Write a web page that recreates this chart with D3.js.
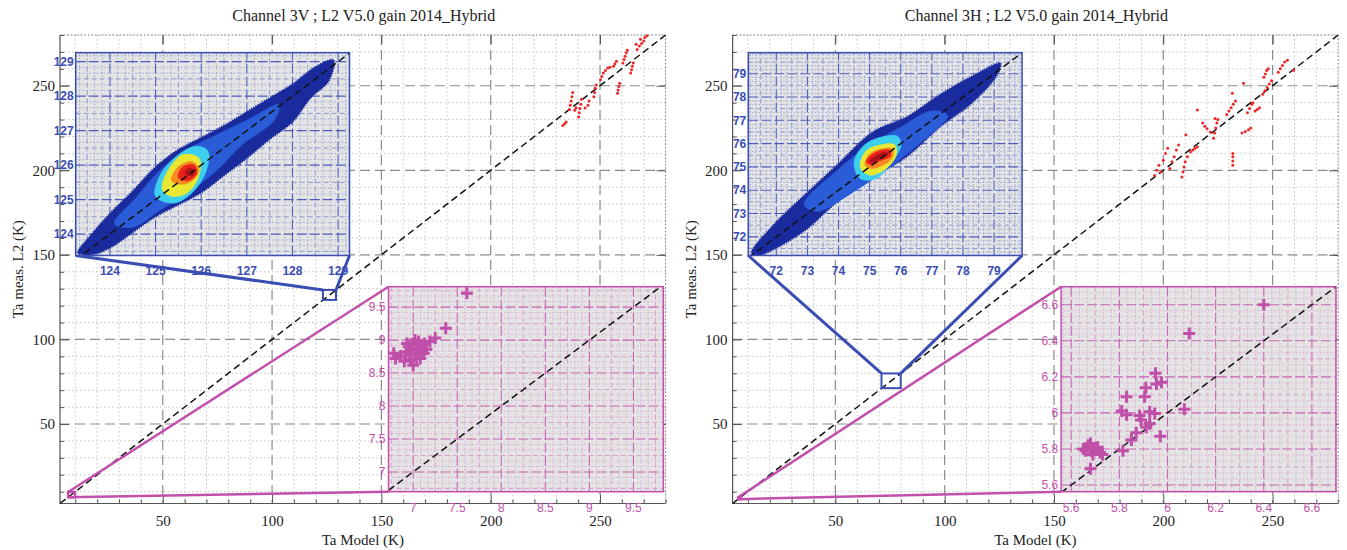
<!DOCTYPE html>
<html lang="en">
<head>
<meta charset="UTF-8">
<title>Ta meas. L2 vs Ta Model</title>
<script src="https://d3js.org/d3.v7.min.js"></script>
<style>
    body { margin: 0; background: #fff; }
    svg { display: block; }
    .serif { font-family: "Liberation Serif", "Times New Roman", serif; }
    .small { font-family: "Liberation Sans", Arial, sans-serif; font-size: 12px; }
</style>
<script>

    // ---- main axes ----
    const titles = ["Channel 3V ; L2 V5.0 gain 2014_Hybrid", "Channel 3H ; L2 V5.0 gain 2014_Hybrid"];
    const mainDomain = [3, 280];
    const mainTicks = [50, 100, 150, 200, 250];
    const xTitle = "Ta Model (K)";
    const yTitle = "Ta meas. L2 (K)";

    // ---- red points (main plot) ----
    const red3V = [
        [233.0,226.5],[233.8,227.6],[234.5,228.6],
        [236.0,236.0],[236.4,238.5],[236.8,241],[237.2,243.5],[237.5,246],
        [238.5,235.5],[239,237],
        [240.2,231.5],[240.5,234],[240.8,236.5],[241.2,239],[241.5,242],
        [243.2,236.8],[244.5,238.5],[245,241],
        [247.2,243.5],[247.5,246],[247.8,248.5],[248.3,250.5],
        [250.2,253.5],[250.8,255.5],[251.5,257.5],[252.5,259],[253.5,260.5],[254.5,261],
        [256.2,261.5],[256.8,263],[257.5,264.5],
        [258,245.5],[258.3,247.5],[258.6,249.5],[259,251.5],
        [260.5,263.5],[261,265.5],[261.5,267.5],[262,269.5],[262.5,271],
        [264,257.5],[264.4,259.5],[264.8,261.5],[265.2,263.5],
        [266.5,274.5],[267,271.5],[268,273.5],[268.5,277.5],[269,275],[270,276.5],[270.5,278.5],[271.5,279.5]
    ];
    const red3H = [
        [196,197],[197,200],[198,203],[199,199],[200,206],[201,210],[202,213],[203,201],[204,205],[205,208],[206,212],[207,215],
        [208.5,196],[209,199],[209.5,202],[210,205],[210.3,221],[211,208],
        [212.5,211],[213.5,212],[214.5,213],[215.6,214],[215.6,235.6],
        [218,228],[219,226],[220,224.5],[221.5,222.6],
        [223,219],[223.5,222],[224,225],[224.5,228],[225,230],[223.7,230.6],
        [229,233],[230,235],[231,237],[232,239],[233,241],
        [231.8,203],[231.8,205.5],[231.8,208],[231.8,210],[231.6,245.6],
        [236,222],[237.5,223],[239,224],[240,225],
        [238.5,234],[239.5,236.5],[240.5,239],[241,240],[236.7,251.5],
        [242,235],[243,236],[244,237],
        [245.5,245],[246.5,247],[247.5,249],[248.5,251],[249.5,253],
        [246,255],[246.7,257],[247.3,259],[248,260],
        [252.6,258],[253.5,260],[254.5,262],[255.5,264],[256.8,265],[259.6,259.2]
    ];

    // ---- blue zoom (density cloud) ----
    const blueX3V = [123.25, 129.25];
    const blueY3V = [123.38, 129.26];
    const blueTicks3V = [124, 125, 126, 127, 128, 129];
    const blueX3H = [71.1, 79.9];
    const blueY3H = [71.2, 79.9];
    const blueTicks3H = [72, 73, 74, 75, 76, 77, 78, 79];

    const cloudColors = ["#1a2b9e", "#2a5cd8", "#3ccfee", "#e8e832", "#f68a1f", "#e8221a", "#a8101c"];
    const cloud3V = [
        [[123.3,123.45],[123.6,124.0],[124,124.6],[124.5,125.25],[125,125.95],[125.5,126.45],[126,126.8],[126.5,127.15],[127,127.55],[127.5,127.95],[128,128.35],[128.5,128.85],[128.9,129.05],
         [128.8,128.45],[128.4,127.95],[128,127.25],[127.5,126.75],[127,126.2],[126.5,125.7],[126,125.2],[125.5,124.85],[125,124.5],[124.5,124.05],[124,123.6],[123.6,123.4]],
        [[124.1,124.3],[124.6,125.1],[125.1,125.85],[125.7,126.45],[126.3,126.85],[127,127.3],[127.7,127.75],[127.6,127.3],[126.9,126.6],[126.3,125.8],[125.7,125.2],[125.1,124.7],[124.5,124.2]],
        [[125.0,125.1],[125.1,125.7],[125.5,126.3],[125.9,126.55],[126.15,126.4],[126.1,125.8],[125.8,125.2],[125.4,124.9]],
        [[125.15,125.3],[125.3,125.9],[125.6,126.3],[125.95,126.2],[125.95,125.7],[125.7,125.2],[125.35,125.1]],
        [[125.35,125.55],[125.5,125.95],[125.8,126.1],[125.95,125.9],[125.85,125.6],[125.6,125.45]],
        [[125.5,125.65],[125.6,125.95],[125.85,126.0],[125.9,125.75],[125.7,125.55]],
        [[125.65,125.75],[125.72,125.9],[125.85,125.85],[125.82,125.7]]
    ];
    const cloud3H = [
        [[71.2,71.3],[71.9,72.5],[72.95,73.85],[74.0,75.15],[75.1,76.5],[76.2,77.15],[77.25,78.1],[78.3,78.9],[79.2,79.45],
         [79.1,78.95],[78.3,77.75],[77.25,76.7],[76.2,75.45],[75.1,74.55],[74.0,73.55],[72.95,72.3],[71.9,71.45],[71.4,71.2]],
        [[72.9,73.4],[74.0,74.9],[75,75.95],[76,76.7],[77,77.4],[77.5,77.2],[76.6,76.0],[75.6,74.95],[74.5,73.95],[73.3,73.1]],
        [[74.5,75.2],[74.8,75.9],[75.3,76.25],[75.9,76.3],[76.0,75.9],[75.7,75.2],[75.2,74.5],[74.7,74.5]],
        [[74.7,75.0],[74.9,75.7],[75.4,75.95],[75.8,75.95],[75.85,75.5],[75.5,74.9],[75.0,74.65]],
        [[74.85,75.1],[75.0,75.55],[75.5,75.8],[75.75,75.75],[75.7,75.35],[75.3,75.0],[75.0,74.95]],
        [[74.9,75.2],[75.0,75.45],[75.35,75.7],[75.65,75.7],[75.65,75.45],[75.3,75.25],[75.1,75.1]],
        [[75.0,75.25],[75.1,75.38],[75.5,75.62],[75.6,75.55],[75.4,75.4],[75.1,75.2]]
    ];

    // ---- magenta zoom (low temperature points) ----
    const pinkX3V = [6.72, 9.84];
    const pinkY3V = [6.70, 9.81];
    const pinkTicks3V = [7, 7.5, 8, 8.5, 9, 9.5];
    const plus3V = [
        [7.61,9.71],[7.37,9.18],[7.25,9.03],[7.19,8.98],[7.13,8.95],[6.80,8.72],[6.78,8.80],[6.86,8.76],
        [6.92,8.82],[6.95,8.90],[6.98,8.85],[7.00,8.95],[7.02,8.78],[7.05,8.88],[7.08,8.83],[7.10,8.92],
        [7.12,8.80],[6.97,8.70],[7.00,8.62],[7.04,8.72],[6.93,8.95],[7.06,8.98],[7.15,8.86],[6.90,8.68],
        [7.08,8.72],[7.02,9.00],[6.96,8.78]
    ];
    const pinkX3H = [5.558, 6.70];
    const pinkY3H = [5.563, 6.70];
    const pinkTicks3H = [5.6, 5.8, 6, 6.2, 6.4, 6.6];
    const plus3H = [
        [6.40,6.60],[6.09,6.44],[5.95,6.22],[5.975,6.17],[5.954,6.16],[5.91,6.14],[5.905,6.09],[5.83,6.09],
        [5.81,6.01],[5.83,5.99],[5.884,5.985],[5.89,5.96],[5.926,6.006],[5.947,5.997],[5.912,5.92],[5.87,5.89],
        [5.926,5.94],[6.07,6.02],[5.97,5.87],[5.85,5.85],[5.815,5.79],
        [5.65,5.80],[5.67,5.82],[5.68,5.79],[5.70,5.80],[5.72,5.78],[5.69,5.77],[5.66,5.79],[5.71,5.81],
        [5.73,5.77],[5.68,5.83],[5.68,5.69]
    ];

    const panels = [
        {title: titles[0], red: red3V, bx: blueX3V, by: blueY3V, bt: blueTicks3V, cloud: cloud3V,
         px: pinkX3V, py: pinkY3V, pt: pinkTicks3V, plus: plus3V},
        {title: titles[1], red: red3H, bx: blueX3H, by: blueY3H, bt: blueTicks3H, cloud: cloud3H,
         px: pinkX3H, py: pinkY3H, pt: pinkTicks3H, plus: plus3H}
    ];

    const BLUE = "#3a4db2";
    const PINK = "#c24fab";

    document.addEventListener("DOMContentLoaded", function() {
        const svg = d3.select("svg");
        panels.forEach(function(p, i) {
            drawPanel(svg.append("g").attr("transform", "translate(" + (i * 672.6) + ",0)"), p, i);
        });
    });

    // grid with 6 sub-divisions per major step, the middle one dashed
    function insetGrid(g, xs, ys, major, color, light) {
        const step = major / 6;
        const ks = function(dom) {
            return d3.range(Math.ceil(dom[0] / step - 1e-6), Math.floor(dom[1] / step + 1e-6) + 1);
        };
        const style = function(sel, k) {
            if (k % 6 === 0) sel.attr("stroke", color).attr("stroke-width", 1.1).attr("stroke-dasharray", "10,3");
            else if (k % 3 === 0) sel.attr("stroke", light).attr("stroke-width", 1).attr("stroke-dasharray", "5,3");
            else sel.attr("stroke", light).attr("stroke-width", 0.8).attr("stroke-dasharray", "1.5,2");
        };
        ks(xs.domain()).forEach(function(k) {
            const x = xs(k * step);
            g.append("line").attr("x1", x).attr("x2", x).attr("y1", ys.range()[0]).attr("y2", ys.range()[1]).call(style, k);
        });
        ks(ys.domain()).forEach(function(k) {
            const y = ys(k * step);
            g.append("line").attr("y1", y).attr("y2", y).attr("x1", xs.range()[0]).attr("x2", xs.range()[1]).call(style, k);
        });
    }

    function drawPanel(g, p, idx) {
        const left = 60, right = 665.6, top = 35, bottom = 503.5;
        const x = d3.scaleLinear().domain(mainDomain).range([left, right]);
        const y = d3.scaleLinear().domain(mainDomain).range([bottom, top]);

        g.append("text").attr("class", "serif").attr("x", (left + right) / 2 + 1).attr("y", 21)
            .attr("text-anchor", "middle").attr("font-size", 16).attr("fill", "#222").text(p.title);

        // main grid
        const minor = d3.range(10, 281, 10).filter(v => v % 50 !== 0);
        g.selectAll(".vmin").data(minor).join("line")
            .attr("x1", d => x(d)).attr("x2", d => x(d)).attr("y1", top).attr("y2", bottom)
            .attr("stroke", "#c4c4c4").attr("stroke-dasharray", "1.5,2.5");
        g.selectAll(".hmin").data(minor).join("line")
            .attr("y1", d => y(d)).attr("y2", d => y(d)).attr("x1", left).attr("x2", right)
            .attr("stroke", "#c4c4c4").attr("stroke-dasharray", "1.5,2.5");
        g.selectAll(".vmaj").data(mainTicks).join("line")
            .attr("x1", d => x(d)).attr("x2", d => x(d)).attr("y1", top).attr("y2", bottom)
            .attr("stroke", "#8c8c8c").attr("stroke-width", 1.2).attr("stroke-dasharray", "10,5");
        g.selectAll(".hmaj").data(mainTicks).join("line")
            .attr("y1", d => y(d)).attr("y2", d => y(d)).attr("x1", left).attr("x2", right)
            .attr("stroke", "#8c8c8c").attr("stroke-width", 1.2).attr("stroke-dasharray", "10,5");

        // frame: dotted top/right, solid left/bottom
        g.append("path").attr("d", `M${left},${top}H${right}V${bottom}`).attr("fill", "none")
            .attr("stroke", "#888").attr("stroke-dasharray", "1.5,2");
        g.append("path").attr("d", `M${left},${top}V${bottom}H${right}`).attr("fill", "none")
            .attr("stroke", "#555").attr("stroke-width", 1.2);

        // axes
        const ax = function(axis, tr, labels, size, pad) {
            const a = g.append("g").attr("class", "serif").attr("transform", tr)
                .call(axis.tickSize(size).tickPadding(pad).tickFormat(labels ? d3.format("d") : ""));
            a.select(".domain").remove();
            a.selectAll("line").attr("stroke", "#555");
            a.selectAll("text").attr("font-size", 15).attr("fill", "#222");
        };
        ax(d3.axisBottom(x).tickValues(mainTicks), `translate(0,${bottom})`, true, -9, 12);
        ax(d3.axisLeft(y).tickValues(mainTicks), `translate(${left},0)`, true, -9, 5);
        ax(d3.axisTop(x).tickValues(mainTicks), `translate(0,${top})`, false, -9, 0);
        ax(d3.axisRight(y).tickValues(mainTicks), `translate(${right},0)`, false, -9, 0);
        ax(d3.axisBottom(x).tickValues(minor), `translate(0,${bottom})`, false, -4, 0);
        ax(d3.axisLeft(y).tickValues(minor), `translate(${left},0)`, false, -4, 0);

        g.append("text").attr("class", "serif").attr("x", (left + right) / 2).attr("y", 545)
            .attr("text-anchor", "middle").attr("font-size", 15).attr("fill", "#222").text(xTitle);
        g.append("text").attr("class", "serif").attr("transform", `translate(23,${(top + bottom) / 2}) rotate(-90)`)
            .attr("text-anchor", "middle").attr("font-size", 15).attr("fill", "#222").text(yTitle);

        // 1:1 line
        g.append("line").attr("x1", x(mainDomain[0])).attr("y1", y(mainDomain[0]))
            .attr("x2", x(mainDomain[1])).attr("y2", y(mainDomain[1]))
            .attr("stroke", "#111").attr("stroke-width", 1.5).attr("stroke-dasharray", "7,4");

        // red scatter
        g.selectAll(".red").data(p.red).join("circle")
            .attr("cx", d => x(d[0])).attr("cy", d => y(d[1])).attr("r", 1.5).attr("fill", "#f02626");

        // ---- blue inset ----
        const bi = {x0: 75.7, x1: 349.5, y0: 52.7, y1: 255.5};
        const bxs = d3.scaleLinear().domain(p.bx).range([bi.x0, bi.x1]);
        const bys = d3.scaleLinear().domain(p.by).range([bi.y1, bi.y0]);
        const bBox = {x0: x(p.bx[0]), x1: x(p.bx[1]), y0: y(p.by[1]), y1: y(p.by[0])};

        g.append("rect").attr("x", bBox.x0).attr("y", bBox.y0).attr("width", bBox.x1 - bBox.x0)
            .attr("height", bBox.y1 - bBox.y0).attr("fill", "none").attr("stroke", BLUE).attr("stroke-width", 2);
        g.append("line").attr("x1", bi.x0).attr("y1", bi.y1).attr("x2", bBox.x0).attr("y2", bBox.y0)
            .attr("stroke", BLUE).attr("stroke-width", 3);
        g.append("line").attr("x1", bi.x1).attr("y1", bi.y1).attr("x2", bBox.x1).attr("y2", bBox.y0)
            .attr("stroke", BLUE).attr("stroke-width", 3);

        const bg = g.append("g");
        bg.append("clipPath").attr("id", "bclip" + idx).append("rect")
            .attr("x", bi.x0).attr("y", bi.y0).attr("width", bi.x1 - bi.x0).attr("height", bi.y1 - bi.y0);
        bg.append("rect").attr("x", bi.x0).attr("y", bi.y0).attr("width", bi.x1 - bi.x0).attr("height", bi.y1 - bi.y0)
            .attr("fill", "#e4e4e4");
        const bc = bg.append("g").attr("clip-path", `url(#bclip${idx})`);
        insetGrid(bc, bxs, bys, 1, "#4a5cbc", "#8b97d4");

        const cloudLine = d3.line().x(d => bxs(d[0])).y(d => bys(d[1])).curve(d3.curveCatmullRomClosed.alpha(0.5));
        bc.selectAll(".cloud").data(p.cloud).join("path")
            .attr("d", cloudLine).attr("fill", (d, i) => cloudColors[i])
            .attr("stroke", (d, i) => cloudColors[i]).attr("stroke-width", (d, i) => i === 0 ? 2 : 0.8)
            .attr("stroke-dasharray", (d, i) => i === 0 ? "1,1.5" : null).attr("stroke-linejoin", "round");

        bc.append("line").attr("x1", bxs(p.bx[0])).attr("y1", bys(p.bx[0]))
            .attr("x2", bxs(p.bx[1])).attr("y2", bys(p.bx[1]))
            .attr("stroke", "#111").attr("stroke-width", 1.5).attr("stroke-dasharray", "7,4");
        bg.append("rect").attr("x", bi.x0).attr("y", bi.y0).attr("width", bi.x1 - bi.x0).attr("height", bi.y1 - bi.y0)
            .attr("fill", "none").attr("stroke", BLUE).attr("stroke-width", 1.5);

        bg.selectAll(".bxl").data(p.bt).join("text").attr("class", "small")
            .attr("x", d => bxs(d)).attr("y", bi.y1 + 19).attr("text-anchor", "middle")
            .attr("font-weight", "bold").attr("fill", BLUE).text(d => d);
        bg.selectAll(".byl").data(p.bt).join("text").attr("class", "small")
            .attr("x", bi.x0 - 2).attr("y", d => bys(d)).attr("dy", "0.35em").attr("text-anchor", "end")
            .attr("font-weight", "bold").attr("fill", BLUE).text(d => d);

        // ---- magenta inset ----
        const pi = {x0: 388.5, x1: 663.4, y0: 286.7, y1: 491.7};
        const pxs = d3.scaleLinear().domain(p.px).range([pi.x0, pi.x1]);
        const pys = d3.scaleLinear().domain(p.py).range([pi.y1, pi.y0]);
        const pBox = {x0: x(p.px[0]), x1: x(p.px[1]), y0: y(p.py[1]), y1: y(p.py[0])};

        g.append("rect").attr("x", pBox.x0).attr("y", pBox.y0).attr("width", pBox.x1 - pBox.x0)
            .attr("height", pBox.y1 - pBox.y0).attr("fill", "none").attr("stroke", PINK).attr("stroke-width", 2.5);
        g.append("line").attr("x1", pBox.x0).attr("y1", pBox.y0).attr("x2", pi.x0).attr("y2", pi.y0)
            .attr("stroke", PINK).attr("stroke-width", 2.5);
        g.append("line").attr("x1", pBox.x0).attr("y1", pBox.y1).attr("x2", pi.x0).attr("y2", pi.y1)
            .attr("stroke", PINK).attr("stroke-width", 2.5);

        const pg = g.append("g");
        pg.append("clipPath").attr("id", "pclip" + idx).append("rect")
            .attr("x", pi.x0).attr("y", pi.y0).attr("width", pi.x1 - pi.x0).attr("height", pi.y1 - pi.y0);
        pg.append("rect").attr("x", pi.x0).attr("y", pi.y0).attr("width", pi.x1 - pi.x0).attr("height", pi.y1 - pi.y0)
            .attr("fill", "#e4e4e4");
        const pc = pg.append("g").attr("clip-path", `url(#pclip${idx})`);
        insetGrid(pc, pxs, pys, p.pt[1] - p.pt[0], "#c860b4", "#dc9cd0");

        pc.append("line").attr("x1", pxs(p.px[0])).attr("y1", pys(p.px[0]))
            .attr("x2", pxs(p.px[1])).attr("y2", pys(p.px[1]))
            .attr("stroke", "#111").attr("stroke-width", 1.5).attr("stroke-dasharray", "7,4");
        pc.selectAll(".plus").data(p.plus).join("path")
            .attr("transform", d => `translate(${pxs(d[0])},${pys(d[1])})`)
            .attr("d", "M-6,0H6M0,-6V6").attr("stroke", "#bf4fa8").attr("stroke-width", 3);
        pg.append("rect").attr("x", pi.x0).attr("y", pi.y0).attr("width", pi.x1 - pi.x0).attr("height", pi.y1 - pi.y0)
            .attr("fill", "none").attr("stroke", PINK).attr("stroke-width", 1.5);

        pg.selectAll(".pxl").data(p.pt).join("text").attr("class", "small")
            .attr("x", d => pxs(d)).attr("y", 512).attr("text-anchor", "middle")
            .attr("fill", PINK).text(d => d);
        pg.selectAll(".pyl").data(p.pt).join("text").attr("class", "small")
            .attr("x", pi.x0 - 3).attr("y", d => pys(d)).attr("dy", "0.35em").attr("text-anchor", "end")
            .attr("fill", PINK).text(d => d);
    }

</script>
</head>
<body>
<svg width="1347" height="550"></svg>
</body>
</html>
